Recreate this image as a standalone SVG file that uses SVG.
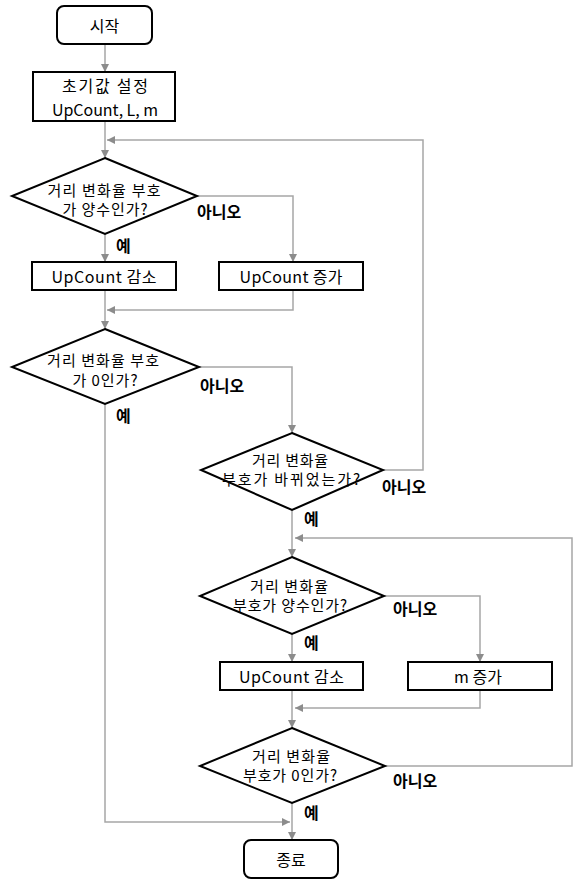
<svg xmlns="http://www.w3.org/2000/svg" width="578" height="880" viewBox="0 0 578 880">
  <style>
    .shape { fill: #ffffff; stroke: #000000; stroke-width: 2; }
    .conn { fill: none; stroke: #a6a6a6; stroke-width: 1.5; marker-end: url(#arrow); }
    text { font-family: "Noto Sans CJK KR", "Noto Sans", sans-serif; fill: #000000; text-anchor: middle; dominant-baseline: central; }
    .box-text { font-size: 16px; }
    .dec-text { font-size: 15px; }
    .label { font-size: 16px; font-weight: bold; text-anchor: start; }
  </style>
  <defs>
    <marker id="arrow" viewBox="0 0 10 10" refX="10" refY="5" markerWidth="8" markerHeight="8" markerUnits="userSpaceOnUse" orient="auto">
      <path d="M0,0 L10,5 L0,10 Z" fill="#8c8c8c"/>
    </marker>
  </defs>
  <rect width="578" height="880" fill="#ffffff"/>

  <!-- connectors -->
  <g id="connectors">
    <path class="conn" d="M105,44 V72"/>
    <path class="conn" d="M105,121 V158"/>
    <path class="conn" d="M383,470 H423 V140 H107"/>
    <path class="conn" d="M105,234 V262"/>
    <path class="conn" d="M197,196 H293 V262"/>
    <path class="conn" d="M293,290 V310 H107"/>
    <path class="conn" d="M105,290 V329"/>
    <path class="conn" d="M199,367 H292 V433"/>
    <path class="conn" d="M105,404 V822 H290"/>
    <path class="conn" d="M292,510 V557"/>
    <path class="conn" d="M385,766 H572 V538 H295"/>
    <path class="conn" d="M384,596 H480 V662"/>
    <path class="conn" d="M292,634 V662"/>
    <path class="conn" d="M292,690 V728"/>
    <path class="conn" d="M480,690 V708 H295"/>
    <path class="conn" d="M292,803 V840"/>
  </g>

  <!-- branch labels -->
  <g id="labels">
    <text class="label" x="116" y="245">예</text>
    <text class="label" x="197" y="211">아니오</text>
    <text class="label" x="116" y="415">예</text>
    <text class="label" x="200" y="385">아니오</text>
    <text class="label" x="382" y="486">아니오</text>
    <text class="label" x="304" y="518">예</text>
    <text class="label" x="393" y="608">아니오</text>
    <text class="label" x="304" y="642">예</text>
    <text class="label" x="393" y="780">아니오</text>
    <text class="label" x="304" y="812">예</text>
  </g>

  <g id="start">
    <rect class="shape" x="57" y="6" width="95" height="38" rx="7"/>
    <text class="box-text" x="104.5" y="25">시작</text>
  </g>

  <g id="init">
    <rect class="shape" x="33" y="72" width="142" height="49"/>
    <text class="box-text" x="105" y="85" textLength="86" lengthAdjust="spacing">초기값 설정</text>
    <text class="box-text" x="105" y="108.5" textLength="106" lengthAdjust="spacing">UpCount, L, m</text>
  </g>

  <g id="dec1">
    <polygon class="shape" points="105,158 197,196 105,234 12,196"/>
    <text class="dec-text" x="104" y="189" textLength="113" lengthAdjust="spacing">거리 변화율 부호</text>
    <text class="dec-text" x="105" y="208" textLength="85" lengthAdjust="spacing">가 양수인가?</text>
  </g>

  <g id="dec-box1">
    <rect class="shape" x="32" y="262" width="144" height="28"/>
    <text class="box-text" x="104" y="276" textLength="105" lengthAdjust="spacing">UpCount 감소</text>
  </g>

  <g id="inc-box1">
    <rect class="shape" x="219" y="262" width="144" height="28"/>
    <text class="box-text" x="291" y="276" textLength="103" lengthAdjust="spacing">UpCount 증가</text>
  </g>

  <g id="dec2">
    <polygon class="shape" points="105,329 199,367 105,404 12,367"/>
    <text class="dec-text" x="103" y="359" textLength="112" lengthAdjust="spacing">거리 변화율 부호</text>
    <text class="dec-text" x="105" y="379" textLength="65" lengthAdjust="spacing">가 0인가?</text>
  </g>

  <g id="dec3">
    <polygon class="shape" points="292,433 383,470 292,510 201,470"/>
    <text class="dec-text" x="290" y="459" textLength="76" lengthAdjust="spacing">거리 변화율</text>
    <text class="dec-text" x="291" y="478.5" textLength="138" lengthAdjust="spacing">부호가 바뀌었는가?</text>
  </g>

  <g id="dec4">
    <polygon class="shape" points="292,557 384,596 292,634 200,596"/>
    <text class="dec-text" x="289" y="585" textLength="78" lengthAdjust="spacing">거리 변화율</text>
    <text class="dec-text" x="290" y="604" textLength="114" lengthAdjust="spacing">부호가 양수인가?</text>
  </g>

  <g id="dec-box2">
    <rect class="shape" x="220" y="662" width="143" height="28"/>
    <text class="box-text" x="291.5" y="676" textLength="105" lengthAdjust="spacing">UpCount 감소</text>
  </g>

  <g id="m-box">
    <rect class="shape" x="408" y="662" width="144" height="28"/>
    <text class="box-text" x="478" y="676">m 증가</text>
  </g>

  <g id="dec5">
    <polygon class="shape" points="292,728 385,766 292,803 200,766"/>
    <text class="dec-text" x="291" y="755" textLength="78" lengthAdjust="spacing">거리 변화율</text>
    <text class="dec-text" x="290" y="774" textLength="94" lengthAdjust="spacing">부호가 0인가?</text>
  </g>

  <g id="end">
    <rect class="shape" x="244" y="840" width="94" height="38" rx="7"/>
    <text class="box-text" x="291" y="859">종료</text>
  </g>
</svg>
